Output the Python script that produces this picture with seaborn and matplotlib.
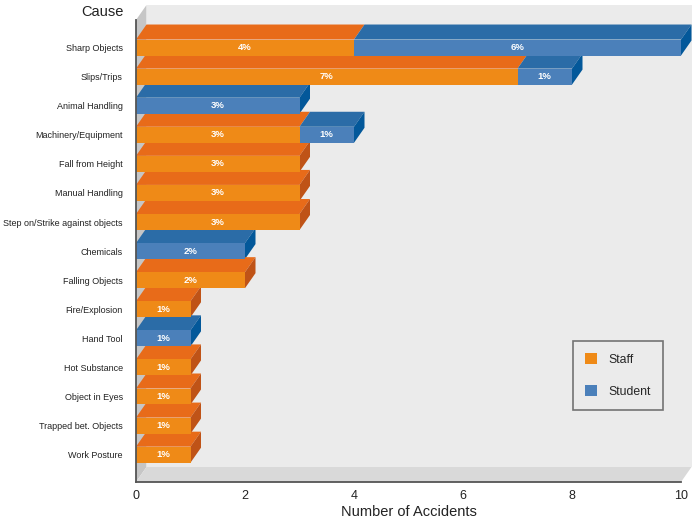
import numpy as np
import pandas as pd
import matplotlib
matplotlib.use("Agg")
import matplotlib.pyplot as plt
from matplotlib.patches import Polygon, Patch
import seaborn as sns

causes = ['Sharp Objects', 'Slips/Trips', 'Animal Handling', 'Machinery/Equipment',
          'Fall from Height', 'Manual Handling', 'Step on/Strike against objects',
          'Chemicals', 'Falling Objects', 'Fire/Explosion', 'Hand Tool',
          'Hot Substance', 'Object in Eyes', 'Trapped bet. Objects', 'Work Posture']
staff = [4, 7, 0, 3, 3, 3, 3, 0, 2, 1, 0, 1, 1, 1, 1]
student = [6, 1, 3, 1, 0, 0, 0, 2, 0, 0, 1, 0, 0, 0, 0]
staff_labels = ['4%', '7%', '', '3%', '3%', '3%', '3%', '', '2%', '1%', '', '1%', '1%', '1%', '1%']
student_labels = ['6%', '1%', '3%', '1%', '', '', '', '2%', '', '', '1%', '', '', '', '']
x_ticks = list(range(11))
x_ticklabels = ['0', '', '2', '', '4', '', '6', '', '8', '', '10']

FONT = ['Liberation Sans', 'DejaVu Sans']

ST_FRONT, ST_TOP, ST_SIDE = '#ef8a17', '#e86b19', '#bf5317'
SU_FRONT, SU_TOP, SU_SIDE = '#4b80ba', '#2b6ca7', '#03589a'
BACK, LEFTW, FLOOR = '#ebebeb', '#c6c6c6', '#d9d9d9'
DX, DY = 10.5, 15.0  # depth offset in pixels

sns.set_style('white')
plt.rcParams['font.family'] = FONT

df = pd.DataFrame({'cause': causes, 'staff': staff, 'student': student})
df['total'] = df['staff'] + df['student']

fig = plt.figure(figsize=(7, 5.2), dpi=100)
ax = fig.add_axes([136 / 700, (520 - 482) / 520, 545 / 700, 462 / 520])
ax.patch.set_facecolor('none')

W = 0.55
sns.barplot(data=df, y='cause', x='total', orient='h', color=SU_FRONT, saturation=1,
            width=W, linewidth=0, ax=ax, zorder=2)
sns.barplot(data=df, y='cause', x='staff', orient='h', color=ST_FRONT, saturation=1,
            width=W, linewidth=0, ax=ax, zorder=2)

ax.set_xlim(0, 10)
ax.set_ylim(14.94, -0.946)

n = len(causes)
tot_patches = ax.patches[:n]
st_patches = ax.patches[n:2 * n]


def off(x, y):
    d = ax.transData.transform((x, y))
    return tuple(ax.transData.inverted().transform((d[0] + DX, d[1] + DY)))


# walls
fx = DX / 545.0
fy = DY / 462.0
ax.add_patch(Polygon([(fx, fy), (1 + fx, fy), (1 + fx, 1 + fy), (fx, 1 + fy)],
                     closed=True, transform=ax.transAxes, facecolor=BACK, edgecolor='none',
                     clip_on=False, zorder=0.1))
ax.add_patch(Polygon([(0, 0), (fx, fy), (fx, 1 + fy), (0, 1)],
                     closed=True, transform=ax.transAxes, facecolor=LEFTW, edgecolor='none',
                     clip_on=False, zorder=0.2))
ax.add_patch(Polygon([(0, 0), (1, 0), (1 + fx, fy), (fx, fy)],
                     closed=True, transform=ax.transAxes, facecolor=FLOOR, edgecolor='none',
                     clip_on=False, zorder=0.3))

# 3D faces of bars
for i in range(n):
    tp = tot_patches[i]
    sp = st_patches[i]
    y_top = tp.get_y()  # smaller value = upper edge (inverted axis)
    y_bot = tp.get_y() + tp.get_height()
    s_end = sp.get_x() + sp.get_width()
    t_end = tp.get_x() + tp.get_width()
    if s_end > 0:
        pts = [(0, y_top), (s_end, y_top), off(s_end, y_top), off(0, y_top)]
        ax.add_patch(Polygon(pts, closed=True, facecolor=ST_TOP, edgecolor='none',
                             clip_on=False, zorder=1.5))
    if t_end > s_end:
        pts = [(s_end, y_top), (t_end, y_top), off(t_end, y_top), off(s_end, y_top)]
        ax.add_patch(Polygon(pts, closed=True, facecolor=SU_TOP, edgecolor='none',
                             clip_on=False, zorder=1.5))
    if t_end > 0:
        side = SU_SIDE if t_end > s_end else ST_SIDE
        pts = [(t_end, y_bot), (t_end, y_top), off(t_end, y_top), off(t_end, y_bot)]
        ax.add_patch(Polygon(pts, closed=True, facecolor=side, edgecolor='none',
                             clip_on=False, zorder=1.5))
    # percent labels
    if staff_labels[i]:
        ax.text(staff[i] / 2, i, staff_labels[i], ha='center', va='center', color='white',
                fontsize=6.8, fontweight='bold', zorder=3)
    if student_labels[i]:
        ax.text(staff[i] + student[i] / 2, i, student_labels[i], ha='center', va='center',
                color='white', fontsize=6.8, fontweight='bold', zorder=3)

# axes styling
for s in ['top', 'right']:
    ax.spines[s].set_visible(False)
for s in ['left', 'bottom']:
    ax.spines[s].set_color('#555555')
    ax.spines[s].set_linewidth(1.3)
    ax.spines[s].set_zorder(4)

ax.set_xticks(x_ticks)
ax.set_xticklabels(x_ticklabels)
ax.tick_params(axis='x', direction='in', length=9, width=1.2, color='#555555',
               labelsize=9, labelcolor='#222222', pad=6)
ax.set_yticks(range(n))
ax.set_yticklabels(causes)
ax.tick_params(axis='y', which='major', length=0, labelsize=6.5, labelcolor='#222222', pad=9.5)
minor = sorted([i - W / 2 for i in range(n)] + [i + W / 2 for i in range(n)])
ax.set_yticks(minor, minor=True)
ax.tick_params(axis='y', which='minor', direction='out', length=4, width=1.2, color='#555555')

ax.set_xlabel('Number of Accidents', fontsize=10.5, color='#222222', labelpad=2)
ax.set_ylabel('')
fig.text(124 / 700, (520 - 12) / 520, 'Cause', ha='right', va='center', fontsize=10.5,
         color='#222222')

handles = [Patch(facecolor=ST_FRONT, edgecolor='none', label='Staff'),
           Patch(facecolor=SU_FRONT, edgecolor='none', label='Student')]
leg = ax.legend(handles=handles, loc='upper left', bbox_to_anchor=(0.802, 0.305),
                frameon=True, fancybox=False, facecolor=BACK, edgecolor='#555555',
                handlelength=0.95, handleheight=0.95, labelspacing=1.6, borderpad=1.0,
                handletextpad=0.9, borderaxespad=0, fontsize=8.8)
leg.get_frame().set_linewidth(1.2)
leg.set_zorder(5)

fig.savefig('out.png', dpi=100)
